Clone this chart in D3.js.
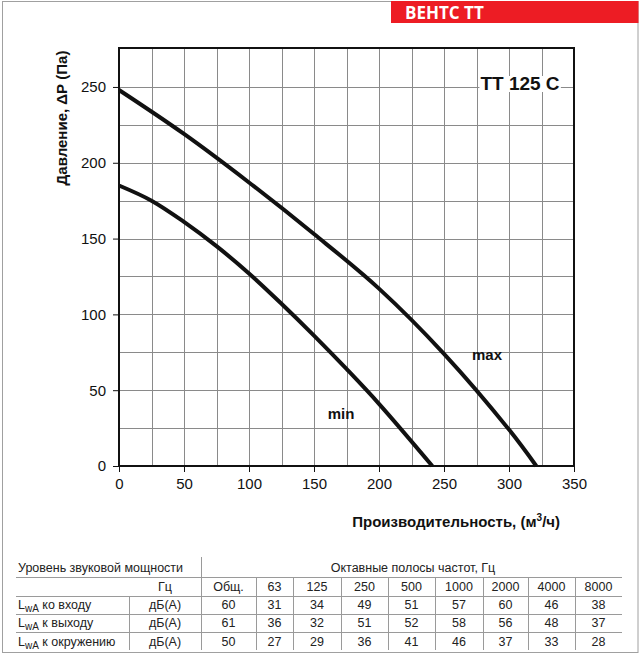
<!DOCTYPE html>
<html><head><meta charset="utf-8">
<script src="https://cdn.jsdelivr.net/npm/d3@7/dist/d3.min.js"></script>
<style>body{margin:0;background:#fff}svg{display:block;font-family:"Liberation Sans",Arial,sans-serif}</style>
</head><body>
<script>
// ---- data ----
const maxFlow = [0, 50, 100, 150, 200, 250, 300, 321];
const maxPres = [248, 219, 187, 153, 117, 74, 24, 0];
const minFlow = [0, 25, 50, 75, 100, 125, 150, 175, 200, 241];
const minPres = [185, 175, 161, 145, 127, 107, 86, 64, 41, 0];
const xTicks = [0, 50, 100, 150, 200, 250, 300, 350];
const yTicks = [0, 50, 100, 150, 200, 250];
const bands = ["Общ.", "63", "125", "250", "500", "1000", "2000", "4000", "8000"];
const rowLabels = ["ко входу", "к выходу", "к окружению"];
const inletDb = [60, 31, 34, 49, 51, 57, 60, 46, 38];
const outletDb = [61, 36, 32, 51, 52, 58, 56, 48, 37];
const surroundDb = [50, 27, 29, 36, 41, 46, 37, 33, 28];

const W = 640, H = 657;
const svg = d3.select("body").append("svg").attr("width", W).attr("height", H);

// frame
svg.append("rect").attr("x", 2.5).attr("y", 1.5).attr("width", 635.5).attr("height", 651)
  .attr("fill", "none").attr("stroke", "#a0a0a0").attr("stroke-width", 1);
// banner
svg.append("rect").attr("x", 391).attr("y", 1).attr("width", 247.5).attr("height", 22).attr("fill", "#ED1C24");
svg.append("text").attr("x", 405).attr("y", 19).attr("fill", "#fff")
  .attr("font-family", "'Open Sans', sans-serif").attr("font-weight", "bold").attr("font-size", 17)
  .text("ВЕНТС ТТ");

// plot
const L = 119, R = 574, T = 48, B = 466;
const x = d3.scaleLinear().domain([0, 350]).range([L, R]);
const y = d3.scaleLinear().domain([0, 275.7]).range([B, T]);

const grid = svg.append("g").attr("stroke", "#8a8a8a").attr("stroke-width", 1);
d3.range(25, 350, 25).forEach(v => grid.append("line")
  .attr("x1", Math.round(x(v)) + 0.5).attr("x2", Math.round(x(v)) + 0.5).attr("y1", T).attr("y2", B));
d3.range(25, 275, 25).forEach(v => grid.append("line")
  .attr("y1", Math.round(y(v)) + 0.5).attr("y2", Math.round(y(v)) + 0.5).attr("x1", L).attr("x2", R));

// model label with white background
const modelG = svg.append("g");
const mt = modelG.append("text").attr("x", 520).attr("y", 90).attr("text-anchor", "middle")
  .attr("font-weight", "bold").attr("font-size", 19).attr("fill", "#111").text("ТТ 125 С");
const bb = mt.node().getBBox();
modelG.insert("rect", "text").attr("x", bb.x - 1).attr("y", bb.y + 3).attr("width", bb.width + 2).attr("height", bb.height - 5).attr("fill", "#fff");

// axes
const xAxis = svg.append("g").attr("transform", `translate(0,${B})`)
  .call(d3.axisBottom(x).tickValues(xTicks).tickSize(6).tickPadding(6).tickFormat(d3.format("d")));
const yAxis = svg.append("g").attr("transform", `translate(${L},0)`)
  .call(d3.axisLeft(y).tickValues(yTicks).tickSize(6).tickPadding(7).tickFormat(d3.format("d")));
[xAxis, yAxis].forEach(a => {
  a.select(".domain").remove();
  a.selectAll(".tick line").attr("stroke", "#111").attr("stroke-width", 1);
  a.selectAll(".tick text").attr("font-size", 15).attr("fill", "#111")
    .attr("font-family", "'Liberation Sans', Arial, sans-serif");
});
svg.append("rect").attr("x", L).attr("y", T).attr("width", R - L).attr("height", B - T)
  .attr("fill", "none").attr("stroke", "#111").attr("stroke-width", 2);

// curves
const line = d3.line().x(d => x(d[0])).y(d => y(d[1])).curve(d3.curveCatmullRom.alpha(0.5));
svg.append("path").datum(maxFlow.map((f, i) => [f, maxPres[i]])).attr("d", line)
  .attr("fill", "none").attr("stroke", "#111").attr("stroke-width", 4);
svg.append("path").datum(minFlow.map((f, i) => [f, minPres[i]])).attr("d", line)
  .attr("fill", "none").attr("stroke", "#111").attr("stroke-width", 4);
svg.append("text").attr("x", 487).attr("y", 360).attr("text-anchor", "middle")
  .attr("font-weight", "bold").attr("font-size", 15).attr("fill", "#111").text("max");
svg.append("text").attr("x", 341).attr("y", 419).attr("text-anchor", "middle")
  .attr("font-weight", "bold").attr("font-size", 15).attr("fill", "#111").text("min");

// axis titles
svg.append("text").attr("transform", "translate(67,118) rotate(-90)").attr("text-anchor", "middle")
  .attr("font-weight", "bold").attr("font-size", 15).attr("fill", "#111").text("Давление, ΔР (Па)");
const xt = svg.append("text").attr("x", 560).attr("y", 527).attr("text-anchor", "end")
  .attr("font-weight", "bold").attr("font-size", 15).attr("fill", "#111");
xt.append("tspan").text("Производительность, (м");
xt.append("tspan").attr("font-size", 10).attr("dy", -6).text("3");
xt.append("tspan").attr("dy", 6).text("/ч)");

// table
const tL = 16, tR = 622;
const colEdges = [201, 256, 293, 341, 388, 435, 483, 528, 575, 622];
const lineYs = [577, 596, 614, 632];
const rowYs = [568, 587, 605, 623, 642];
const tBottom = 650;
const tg = svg.append("g").attr("font-size", 12.5).attr("fill", "#222");
const lg = svg.append("g").attr("stroke", "#9a9a9a").attr("stroke-width", 1);
lineYs.forEach(v => lg.append("line").attr("x1", tL).attr("x2", tR).attr("y1", v + 0.5).attr("y2", v + 0.5));
lg.append("line").attr("x1", 201.5).attr("x2", 201.5).attr("y1", 557).attr("y2", tBottom);
colEdges.slice(1, -1).forEach(v => lg.append("line").attr("x1", v + 0.5).attr("x2", v + 0.5).attr("y1", lineYs[0]).attr("y2", tBottom));
lg.append("line").attr("x1", 129.5).attr("x2", 129.5).attr("y1", lineYs[1]).attr("y2", tBottom);

tg.append("text").attr("x", 18).attr("y", rowYs[0]).attr("dy", "0.35em").text("Уровень звуковой мощности");
tg.append("text").attr("x", 413).attr("y", rowYs[0]).attr("dy", "0.35em").attr("text-anchor", "middle").text("Октавные полосы частот, Гц");
tg.append("text").attr("x", 165).attr("y", rowYs[1]).attr("dy", "0.35em").attr("text-anchor", "middle").text("Гц");
bands.forEach((b, i) => tg.append("text").attr("x", (colEdges[i] + colEdges[i + 1]) / 2).attr("y", rowYs[1])
  .attr("dy", "0.35em").attr("text-anchor", "middle").text(b));
[inletDb, outletDb, surroundDb].forEach((vals, r) => {
  const yy = rowYs[r + 2];
  const t = tg.append("text").attr("x", 18).attr("y", yy).attr("dy", "0.35em");
  t.append("tspan").text("L");
  t.append("tspan").attr("font-size", 10).attr("dy", 2.5).text("wA");
  t.append("tspan").attr("dy", -2.5).text(" " + rowLabels[r]);
  tg.append("text").attr("x", 165).attr("y", yy).attr("dy", "0.35em").attr("text-anchor", "middle").text("дБ(А)");
  vals.forEach((v, i) => tg.append("text").attr("x", (colEdges[i] + colEdges[i + 1]) / 2).attr("y", yy)
    .attr("dy", "0.35em").attr("text-anchor", "middle").text(v));
});
</script>
</body></html>
